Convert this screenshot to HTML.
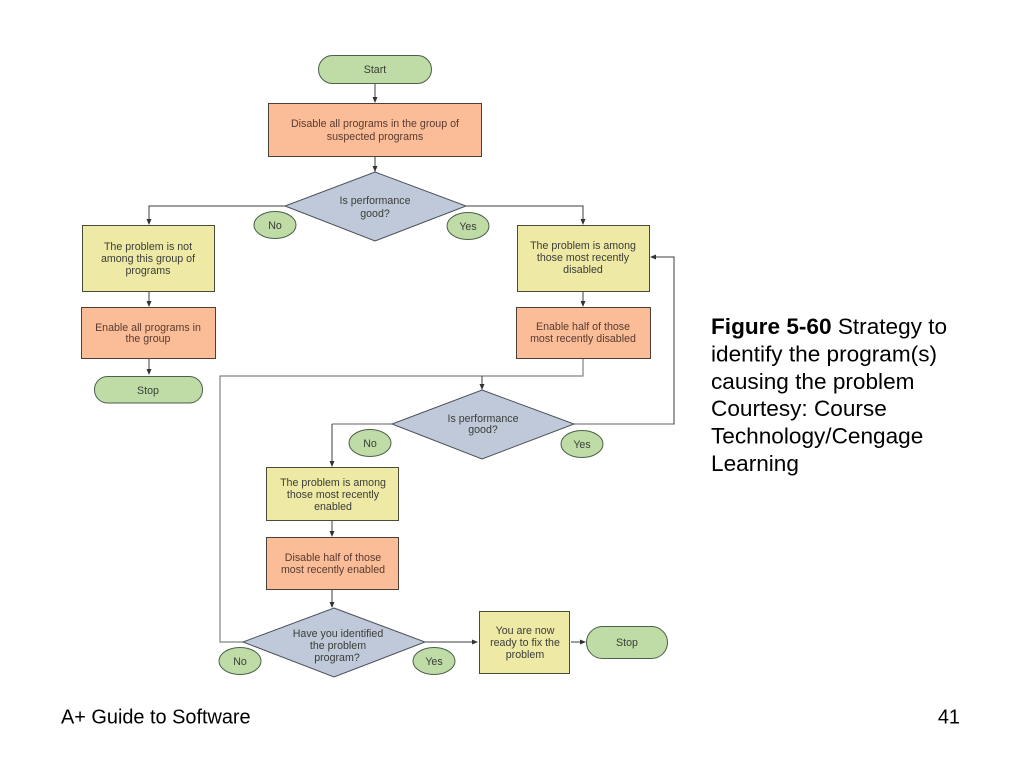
<!DOCTYPE html>
<html><head><meta charset="utf-8"><style>html,body{margin:0;padding:0;background:#fff}svg{display:block}
text{font-family:"Liberation Sans",sans-serif}
.d text{font-size:10.65px;fill:#3a3d38;text-anchor:middle}
.d .r{fill:#5a3a30}
.g{fill:#bfdca6;stroke:#4a6048;stroke-width:1}
.o{fill:#fabd98;stroke:#4a4038;stroke-width:1}
.y{fill:#efe9a6;stroke:#4a4a38;stroke-width:1}
.b{fill:#c0c9d9;stroke:#4a505a;stroke-width:1}
.l{fill:none;stroke:#3c3c3c;stroke-width:1}
.s{fill:none;stroke:#808480;stroke-width:1.2}
.a{fill:#333}
.bl{filter:blur(.3px)}
</style></head><body>
<svg width="1024" height="768" viewBox="0 0 1024 768" xmlns="http://www.w3.org/2000/svg">
<rect width="1024" height="768" fill="#fff"/>
<g class="bl">
<path class="s" d="M583 359V376H220V642H243M392 424H332M574 424H674"/>
<path class="l" d="M375 83V101M375 156V172M285 206H149V223M466 206H583V223M149 292V305M149 359V373M583 292V305M482 376V388M332 424V465M674 424.500V257H652M332 521V535M332 590V606M425 642H476M571 642H584"/>
<g class="a">
<path d="M375 103l-2.500-6h5z"/><path d="M375 172l-2.500-6h5z"/><path d="M149 225l-2.500-6h5z"/><path d="M583 225l-2.500-6h5z"/><path d="M149 307l-2.500-6h5z"/><path d="M149 375l-2.500-6h5z"/><path d="M583 307l-2.500-6h5z"/><path d="M482 390l-2.500-6h5z"/><path d="M332 467l-2.500-6h5z"/><path d="M332 537l-2.500-6h5z"/><path d="M332 608l-2.500-6h5z"/><path d="M650 257l6-2.500v5z"/><path d="M478 642l-6-2.500v5z"/><path d="M586 642l-6-2.500v5z"/>
</g>
<g class="d">
<rect class="g" x="318.500" y="55.500" width="113" height="28" rx="14"/><text x="375" y="73">Start</text>
<rect class="o" x="268.500" y="103.500" width="213" height="53"/><text class="r" x="375" y="127">Disable all programs in the group of</text><text class="r" x="375" y="140">suspected programs</text>
<path class="b" d="M375 172L466 206L375 241L285 206Z"/><text x="375" y="204">Is performance</text><text x="375" y="217">good?</text>
<ellipse class="g" cx="275" cy="225" rx="21" ry="13.500"/><text x="275" y="229">No</text>
<ellipse class="g" cx="468" cy="226" rx="21" ry="13.500"/><text x="468" y="230">Yes</text>
<rect class="y" x="82.500" y="225.500" width="132" height="66"/><text x="148" y="250">The problem is not</text><text x="148" y="262">among this group of</text><text x="148" y="274">programs</text>
<rect class="o" x="81.500" y="307.500" width="134" height="51"/><text class="r" x="148" y="331">Enable all programs in</text><text class="r" x="148" y="342">the group</text>
<rect class="g" x="94.500" y="376.500" width="108" height="26.500" rx="13"/><text x="148" y="394">Stop</text>
<rect class="y" x="517.500" y="225.500" width="132" height="66"/><text x="583" y="249">The problem is among</text><text x="583" y="261">those most recently</text><text x="583" y="273">disabled</text>
<rect class="o" x="516.500" y="307.500" width="134" height="51"/><text class="r" x="583" y="330">Enable half of those</text><text class="r" x="583" y="342">most recently disabled</text>
<path class="b" d="M482 390L574 424L482 459L392 424Z"/><text x="483" y="422">Is performance</text><text x="483" y="433">good?</text>
<ellipse class="g" cx="370" cy="443" rx="21" ry="13.500"/><text x="370" y="447">No</text>
<ellipse class="g" cx="582" cy="444" rx="21" ry="13.500"/><text x="582" y="448">Yes</text>
<rect class="y" x="266.500" y="467.500" width="132" height="53"/><text x="333" y="486">The problem is among</text><text x="333" y="498">those most recently</text><text x="333" y="510">enabled</text>
<rect class="o" x="266.500" y="537.500" width="132" height="52"/><text class="r" x="333" y="561">Disable half of those</text><text class="r" x="333" y="573">most recently enabled</text>
<path class="b" d="M334 608L425 642L334 677L243 642Z"/><text x="338" y="637">Have you identified</text><text x="338" y="649">the problem</text><text x="337" y="661">program?</text>
<ellipse class="g" cx="240" cy="661" rx="21" ry="13.500"/><text x="240" y="665">No</text>
<ellipse class="g" cx="434" cy="661" rx="21" ry="13.500"/><text x="434" y="665">Yes</text>
<rect class="y" x="479.500" y="611.500" width="90" height="62"/><text x="525" y="634">You are now</text><text x="525" y="646">ready to fix the</text><text x="525" y="658">problem</text>
<rect class="g" x="586.500" y="626.500" width="81" height="32" rx="16"/><text x="627" y="646">Stop</text>
</g>
</g>
<g font-size="22.600" fill="#000">
<text x="711" y="334"><tspan font-weight="bold">Figure 5-60</tspan> Strategy to</text>
<text x="711" y="361.500">identify the program(s)</text>
<text x="711" y="389">causing the problem</text>
<text x="711" y="416">Courtesy: Course</text>
<text x="711" y="443.500">Technology/Cengage</text>
<text x="711" y="471">Learning</text>
</g>
<text x="61" y="723.500" font-size="19.900" fill="#000">A+ Guide to Software</text>
<text x="960" y="723.500" font-size="19.900" fill="#000" text-anchor="end">41</text>
</svg></body></html>
